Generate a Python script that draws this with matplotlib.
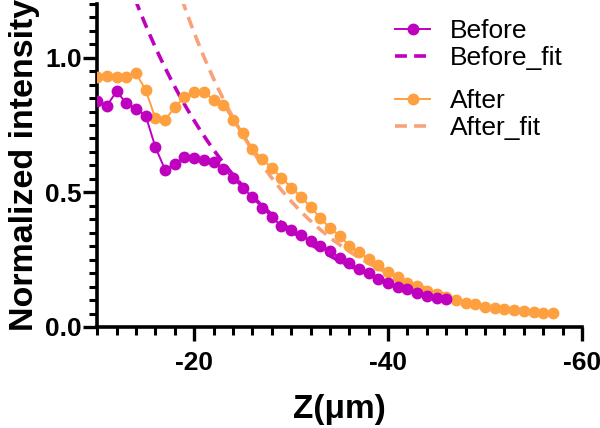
import matplotlib
matplotlib.use("Agg")
import matplotlib.pyplot as plt
from matplotlib.ticker import MultipleLocator, FormatStrFormatter
from matplotlib.lines import Line2D
import numpy as np

plt.rcParams['font.family'] = ['Liberation Sans', 'DejaVu Sans']
plt.rcParams['axes.unicode_minus'] = False

# depth (um) and normalized intensity
z_before = np.arange(-10, -47, -1)
before = [0.838, 0.822, 0.875, 0.831, 0.810, 0.785, 0.668, 0.584, 0.606, 0.631,
          0.628, 0.621, 0.612, 0.588, 0.553, 0.517, 0.483, 0.443, 0.409, 0.375,
          0.359, 0.341, 0.320, 0.301, 0.283, 0.256, 0.237, 0.215, 0.199, 0.178,
          0.164, 0.149, 0.140, 0.127, 0.115, 0.109, 0.103]

z_after = np.arange(-10, -58, -1)
after = [0.927, 0.932, 0.930, 0.930, 0.942, 0.880, 0.775, 0.769, 0.816, 0.853,
         0.873, 0.873, 0.843, 0.825, 0.768, 0.721, 0.662, 0.624, 0.590, 0.555,
         0.518, 0.484, 0.446, 0.405, 0.368, 0.339, 0.302, 0.277, 0.251, 0.232,
         0.205, 0.184, 0.164, 0.152, 0.135, 0.122, 0.110, 0.100, 0.090, 0.084,
         0.075, 0.069, 0.066, 0.063, 0.059, 0.057, 0.053, 0.051]

# exponential fits: I = amp * exp(rate * (z - z0))
before_fit_amp, before_fit_rate, before_fit_z0 = 1.2, 0.076, -14.1
after_fit_amp, after_fit_rate, after_fit_z0 = 1.2, 0.085, -18.9

c_before = '#BF00BF'
c_after = '#FFA040'
c_after_fit = '#F8A27C'

fig = plt.figure(figsize=(6, 4.28), dpi=100)
ax = fig.add_axes([0.162, 0.236, 0.808, 0.755])

zf_b = np.linspace(-10, -46, 200)
zf_a = np.linspace(-10, -46, 200)
ax.plot(zf_b, before_fit_amp * np.exp(before_fit_rate * (zf_b - before_fit_z0)),
        ls=(0, (3.3, 2)), lw=2.6, color=c_before, zorder=2)
ax.plot(zf_a, after_fit_amp * np.exp(after_fit_rate * (zf_a - after_fit_z0)),
        ls=(0, (3.3, 2)), lw=2.6, color=c_after_fit, zorder=2)
ax.plot(z_after, after, '-o', color=c_after, lw=1.4, ms=7.5, zorder=3)
ax.plot(z_before, before, '-o', color=c_before, lw=1.4, ms=7.5, zorder=4)

ax.set_xlim(-10, -60)
ax.set_ylim(0, 1.2)
ax.set_xticks([-20, -40, -60])
ax.xaxis.set_minor_locator(MultipleLocator(2))
ax.yaxis.set_major_locator(MultipleLocator(0.5))
ax.yaxis.set_minor_locator(MultipleLocator(0.05))
ax.yaxis.set_major_formatter(FormatStrFormatter('%.1f'))

for s in ['top', 'right']:
    ax.spines[s].set_visible(False)
for s in ['left', 'bottom']:
    ax.spines[s].set_linewidth(2.6)
ax.tick_params(which='major', length=10, width=2.4, labelsize=19)
ax.tick_params(axis='y', which='major', pad=1)
ax.tick_params(axis='x', which='major', pad=7)
ax.tick_params(which='minor', length=6, width=2.2)
for lab in ax.get_xticklabels() + ax.get_yticklabels():
    lab.set_fontweight('bold')

ax.set_xlabel('Z(\u03bcm)', fontsize=24, fontweight='bold', labelpad=14)
ax.set_ylabel('Normalized intensity', fontsize=24.5, fontweight='bold', labelpad=4)

h1 = [Line2D([], [], color=c_before, marker='o', lw=1.4, ms=7.5),
      Line2D([], [], color=c_before, ls=(0, (3.3, 2)), lw=2.6)]
h2 = [Line2D([], [], color=c_after, marker='o', lw=1.4, ms=7.5),
      Line2D([], [], color=c_after_fit, ls=(0, (3.3, 2)), lw=2.6)]
leg_kw = dict(loc='upper left', frameon=False, fontsize=19, borderpad=0,
              borderaxespad=0, handlelength=1.33, labelspacing=0.11,
              handletextpad=0.76, bbox_transform=fig.transFigure)
leg1 = ax.legend(h1, ['Before', 'Before_fit'],
                 bbox_to_anchor=(395 / 600, 1 - 19 / 428), **leg_kw)
ax.add_artist(leg1)
ax.legend(h2, ['After', 'After_fit'],
          bbox_to_anchor=(395 / 600, 1 - 89 / 428), **leg_kw)

fig.savefig('out.png', dpi=100)
